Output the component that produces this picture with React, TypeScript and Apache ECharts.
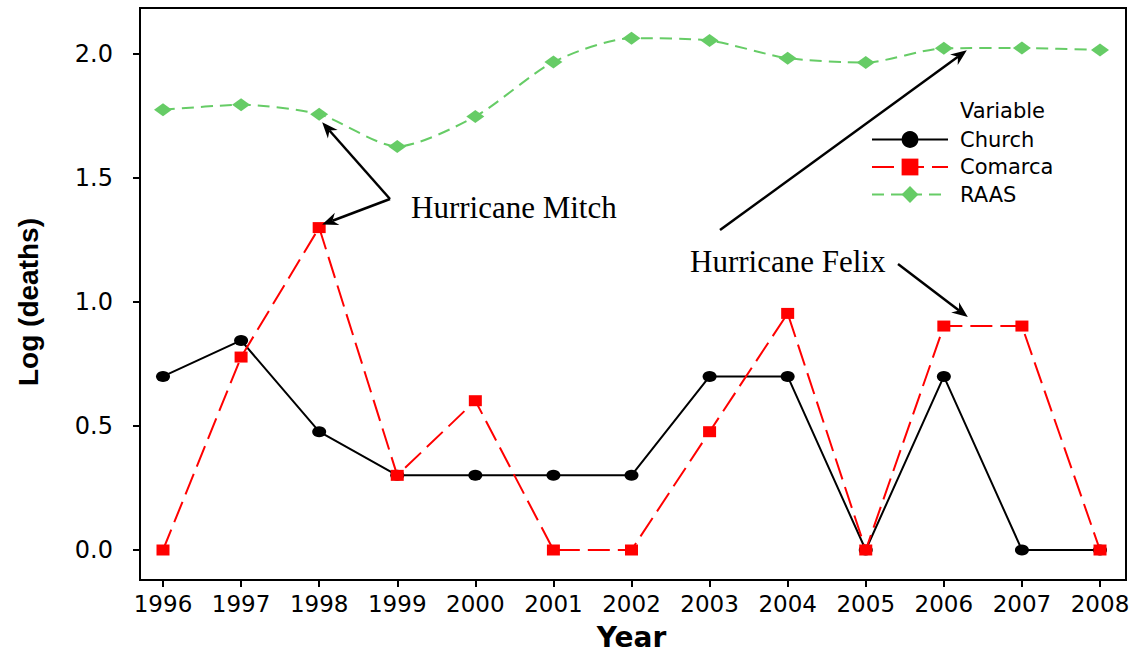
import React, { useEffect, useRef } from "react";
import * as echarts from "echarts";

const years = [1996, 1997, 1998, 1999, 2000, 2001, 2002, 2003, 2004, 2005, 2006, 2007, 2008];
const church = [0.70, 0.845, 0.477, 0.301, 0.301, 0.301, 0.301, 0.70, 0.70, 0, 0.70, 0, 0];
const comarca = [0, 0.778, 1.30, 0.301, 0.602, 0, 0, 0.477, 0.954, 0, 0.903, 0.903, 0];
const raas = [1.775, 1.795, 1.757, 1.627, 1.748, 1.968, 2.064, 2.054, 1.983, 1.966, 2.023, 2.024, 2.016];
const seriesNames = ["Church", "Comarca", "RAAS"];
const yTicks = [0, 0.5, 1.0, 1.5, 2.0];

const SANS = "DejaVu Sans";
const SERIF = "Liberation Serif";

function arrow(from: number[], to: number[], color = "#000") {
  const dx = to[0] - from[0];
  const dy = to[1] - from[1];
  const len = Math.sqrt(dx * dx + dy * dy);
  const ux = dx / len;
  const uy = dy / len;
  const px = -uy;
  const py = ux;
  const L = 16;
  const W = 6.5;
  const notch = 11;
  const base = [to[0] - ux * L, to[1] - uy * L];
  const nb = [to[0] - ux * notch, to[1] - uy * notch];
  return [
    {
      type: "line",
      shape: { x1: from[0], y1: from[1], x2: nb[0], y2: nb[1] },
      style: { stroke: color, lineWidth: 2.5 },
      z: 100,
    },
    {
      type: "polygon",
      shape: {
        points: [
          [to[0], to[1]],
          [base[0] + px * W, base[1] + py * W],
          [nb[0], nb[1]],
          [base[0] - px * W, base[1] - py * W],
        ],
      },
      style: { fill: color },
      z: 100,
    },
  ];
}

export default function App() {
  const ref = useRef<HTMLDivElement>(null);
  useEffect(() => {
    if (!ref.current) return;
    const chart = echarts.init(ref.current, undefined, { renderer: "svg" });
    const option: any = {
      animation: false,
      backgroundColor: "#fff",
      grid: {
        left: 163,
        right: 34,
        top: 54,
        bottom: 104,
        containLabel: false,
        outerBoundsMode: "none",
      },
      xAxis: {
        type: "value",
        min: 1996,
        max: 2008,
        interval: 1,
        offset: 30,
        name: "Year",
        nameLocation: "middle",
        nameGap: 43,
        nameTextStyle: { fontFamily: SANS, fontWeight: "bold", fontSize: 28, color: "#000" },
        axisLine: { show: true, onZero: false, lineStyle: { color: "#000", width: 2 } },
        axisTick: { show: true, length: 7, lineStyle: { color: "#000", width: 2 } },
        axisLabel: {
          fontFamily: SANS,
          fontSize: 23,
          color: "#000",
          margin: 12,
          formatter: (v: number) => String(v),
        },
        splitLine: { show: false },
      },
      yAxis: {
        type: "value",
        min: 0,
        max: 2,
        interval: 0.5,
        offset: 23,
        name: "Log (deaths)",
        nameLocation: "middle",
        nameGap: 98,
        nameRotate: 90,
        nameTextStyle: { fontFamily: "Liberation Sans", fontWeight: "bold", fontSize: 28, color: "#000" },
        axisLine: { show: true, onZero: false, lineStyle: { color: "#000", width: 2 } },
        axisTick: { show: true, length: 7, lineStyle: { color: "#000", width: 2 } },
        axisLabel: {
          fontFamily: SANS,
          fontSize: 24,
          color: "#000",
          margin: 27,
          formatter: (v: number) => (yTicks.includes(v) ? v.toFixed(1) : ""),
        },
        splitLine: { show: false },
      },
      legend: {
        orient: "vertical",
        left: 866,
        top: 124,
        itemWidth: 76,
        itemHeight: 21,
        itemGap: 6.5,
        textStyle: { fontFamily: SANS, fontSize: 21, color: "#000", padding: [0, 0, 0, 7] },
        data: seriesNames,
      },
      series: [
        {
          name: seriesNames[0],
          type: "line",
          data: years.map((y, i) => [y, church[i]]),
          symbol: "circle",
          symbolSize: [14, 11],
          clip: false,
          lineStyle: { color: "#000", width: 2 },
          itemStyle: { color: "#000" },
          z: 3,
        },
        {
          name: seriesNames[1],
          type: "line",
          data: years.map((y, i) => [y, comarca[i]]),
          symbol: "rect",
          symbolSize: [13, 11],
          clip: false,
          lineStyle: { color: "#ff0000", width: 2, type: [22, 8] },
          itemStyle: { color: "#ff0000" },
          z: 4,
        },
        {
          name: seriesNames[2],
          type: "line",
          data: years.map((y, i) => [y, raas[i]]),
          symbol: "diamond",
          symbolSize: [18, 13],
          smooth: 0.25,
          clip: false,
          lineStyle: { color: "#66cc66", width: 2, type: [12, 7] },
          itemStyle: { color: "#66cc66" },
          z: 5,
        },
      ],
    };
    chart.setOption(option);

    const p = (x: number, y: number) => chart.convertToPixel({ gridIndex: 0 }, [x, y]) as number[];
    const mitchRaas = p(years[2], raas[2]);
    const mitchCom = p(years[2], comarca[2]);
    const felixRaas = p(years[10], raas[10]);
    const felixCom = p(years[10], comarca[10]);
    const mitchVertex = [390, 199];

    const graphics: any[] = [
      {
        type: "rect",
        shape: { x: 140, y: 8, width: 986, height: 572 },
        style: { fill: "none", stroke: "#000", lineWidth: 2 },
        z: 50,
        silent: true,
      },
      {
        type: "text",
        x: 960,
        y: 111,
        style: {
          text: "Variable",
          fontFamily: SANS,
          fontSize: 21,
          fill: "#000",
          verticalAlign: "middle",
        },
        z: 100,
      },
      {
        type: "text",
        x: 411,
        y: 207,
        style: {
          text: "Hurricane Mitch",
          fontFamily: SERIF,
          fontSize: 31,
          fill: "#000",
          verticalAlign: "middle",
        },
        z: 100,
      },
      {
        type: "text",
        x: 690,
        y: 261,
        style: {
          text: "Hurricane Felix",
          fontFamily: SERIF,
          fontSize: 31,
          fill: "#000",
          verticalAlign: "middle",
        },
        z: 100,
      },
      ...arrow(mitchVertex, [mitchRaas[0] + 3, mitchRaas[1] + 8]),
      ...arrow(mitchVertex, [mitchCom[0] + 3, mitchCom[1] - 3]),
      ...arrow([720, 230], [felixRaas[0] + 23, felixRaas[1] + 2]),
      ...arrow([898, 264], [felixCom[0] + 24, felixCom[1] - 9]),
    ];
    chart.setOption({ graphic: graphics });

    return () => chart.dispose();
  }, []);

  return (
    <div
      ref={ref}
      style={{ position: "fixed", left: 0, top: 0, width: 1134, height: 654, background: "#fff" }}
    />
  );
}
